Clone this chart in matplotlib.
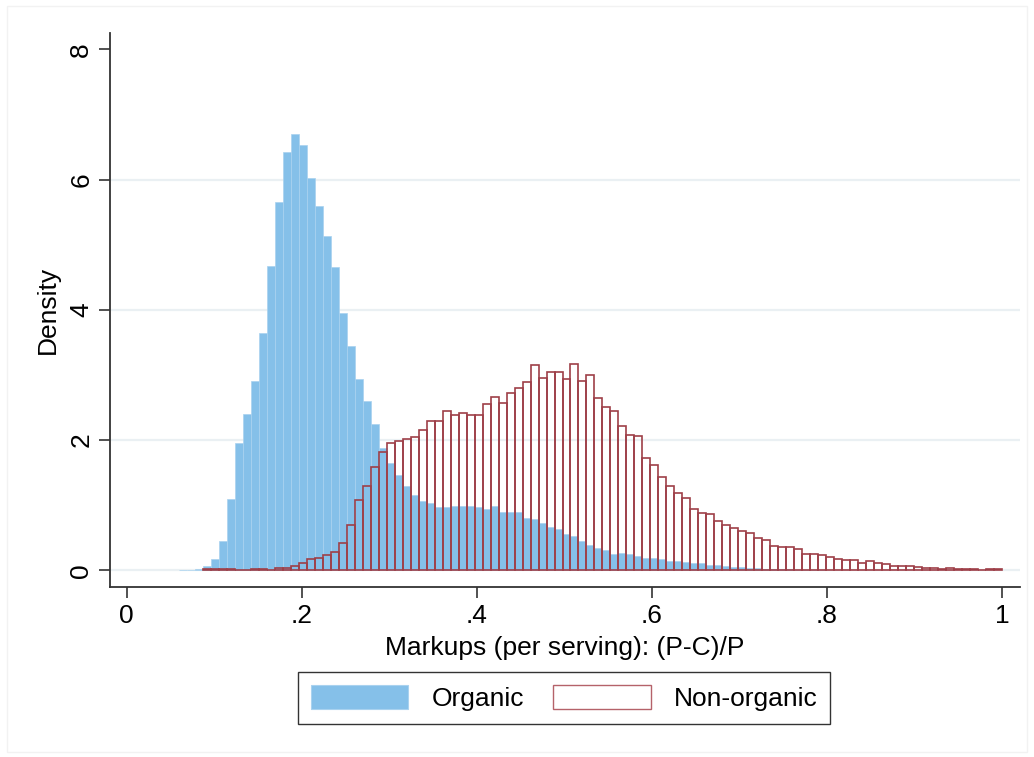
import matplotlib.pyplot as plt
import matplotlib.patches as mpatches
import numpy as np

# histogram bins (shared by both groups), markup share of price
bin_start = 0.0601
bin_width = 0.009121

# densities per bin, organic products start at bin 0
organic_density = [
    0.01, 0.01, 0.02, 0.065, 0.18, 0.45, 1.09, 1.95, 2.40, 2.90,
    3.64, 4.67, 5.65, 6.43, 6.70, 6.53, 6.03, 5.59, 5.13, 4.65,
    3.95, 3.45, 2.94, 2.60, 2.24, 1.88, 1.65, 1.47, 1.30, 1.155,
    1.06, 1.03, 0.97, 0.97, 0.99, 0.99, 0.99, 0.97, 0.94, 0.99,
    0.90, 0.90, 0.90, 0.80, 0.79, 0.72, 0.67, 0.63, 0.56, 0.52,
    0.45, 0.39, 0.35, 0.31, 0.255, 0.265, 0.25, 0.22, 0.19, 0.195,
    0.17, 0.15, 0.14, 0.135, 0.12, 0.105, 0.075, 0.075, 0.06, 0.055,
    0.05, 0.035, 0.03, 0.025, 0.02, 0.015, 0.015, 0.01, 0.01, 0.005,
    0.005,
]

# non-organic products start at bin 3
nonorganic_first_bin = 3
nonorganic_density = [
    0.02, 0.02, 0.02, 0.02, 0.0, 0.0, 0.02, 0.02, 0.01, 0.04,
    0.03, 0.06, 0.12, 0.18, 0.19, 0.23, 0.28, 0.42, 0.69, 1.08,
    1.30, 1.58, 1.82, 1.95, 1.99, 2.02, 2.04, 2.15, 2.29, 2.29,
    2.45, 2.38, 2.41, 2.38, 2.38, 2.56, 2.66, 2.57, 2.73, 2.80,
    2.89, 3.16, 2.96, 3.05, 3.05, 2.93, 3.17, 2.91, 3.00, 2.65,
    2.51, 2.44, 2.22, 2.08, 2.06, 1.72, 1.62, 1.44, 1.30, 1.18,
    1.11, 0.94, 0.88, 0.86, 0.75, 0.69, 0.65, 0.60, 0.57, 0.49,
    0.46, 0.38, 0.36, 0.36, 0.32, 0.255, 0.245, 0.23, 0.21, 0.18,
    0.16, 0.155, 0.105, 0.15, 0.12, 0.095, 0.07, 0.07, 0.07, 0.045,
    0.04, 0.035, 0.02, 0.04, 0.02, 0.015, 0.015, 0.01, 0.015, 0.02,
]

x_ticks = [0, 0.2, 0.4, 0.6, 0.8, 1.0]
x_tick_labels = ['0', '.2', '.4', '.6', '.8', '1']
y_ticks = [0, 2, 4, 6, 8]

blue = '#85C0E9'
red = '#9E3F48'
fs = 19

plt.rcParams['font.family'] = ['Liberation Sans', 'DejaVu Sans']

fig = plt.figure(figsize=(10.34, 7.57), dpi=100)
ax = fig.add_axes([110 / 1034, 170 / 757, 910 / 1034, 554 / 757])

org_left = bin_start + bin_width * np.arange(len(organic_density))
non_left = bin_start + bin_width * (nonorganic_first_bin + np.arange(len(nonorganic_density)))

for y in [0, 2, 4, 6]:
    ax.axhline(y, color='#EAF0F3', lw=1.6, zorder=0)

ax.bar(org_left, organic_density, width=bin_width, align='edge',
       color=blue, edgecolor='#A9D2EF', linewidth=0.5, zorder=2)
ax.bar(non_left, nonorganic_density, width=bin_width, align='edge',
       facecolor='none', edgecolor=red, linewidth=1.2, zorder=3)

ax.set_xlim(-0.0191, 1.0206)
ax.set_ylim(-0.256, 8.25)

ax.set_xticks(x_ticks)
ax.set_xticklabels(x_tick_labels, fontsize=fs)
ax.set_yticks(y_ticks)
ax.set_yticklabels([str(v) for v in y_ticks], fontsize=fs, rotation=90, va='center')
ax.tick_params(direction='out', length=8, width=1.2, color='#333333', pad=4)

for side in ['top', 'right']:
    ax.spines[side].set_visible(False)
for side in ['left', 'bottom']:
    ax.spines[side].set_linewidth(1.3)
    ax.spines[side].set_color('#333333')

ax.set_xlabel('Markups (per serving): (P-C)/P', fontsize=fs, labelpad=6)
ax.set_ylabel('Density', fontsize=fs, labelpad=7)

handles = [
    mpatches.Patch(facecolor=blue, edgecolor='#A9D2EF', linewidth=0.8, label='Organic'),
    mpatches.Patch(facecolor='white', edgecolor='#B5626A', linewidth=1.0, label='Non-organic'),
]
leg = fig.legend(handles=handles, loc='center', bbox_to_anchor=(564 / 1034, 59 / 757),
                 ncol=2, fontsize=fs, frameon=True, fancybox=False,
                 handlelength=3.7, handleheight=1.0, handletextpad=0.87,
                 columnspacing=1.1, borderpad=0.5)
leg.get_frame().set_edgecolor('black')
leg.get_frame().set_linewidth(1.0)

# faint outer frame around the whole graph
fig.patches.append(mpatches.Rectangle((7 / 1034, 5 / 757), 1020 / 1034, 746 / 757,
                                      transform=fig.transFigure, fill=False,
                                      edgecolor='#F2F2F2', linewidth=1.0))

fig.savefig('out.png', dpi=100)
